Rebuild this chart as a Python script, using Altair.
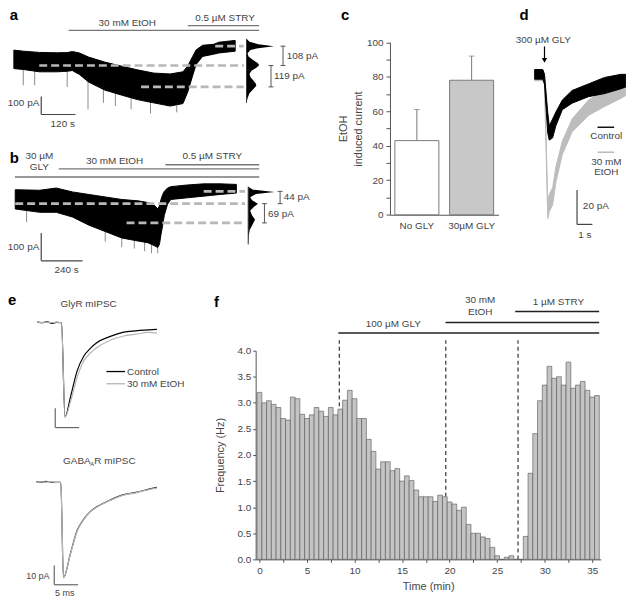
import altair as alt
import pandas as pd

FONT = "Liberation Sans"
W, H = 622, 592
OX, OY, SX, SY = 1.0, 3.0, 0.984, 0.968


def PX(x):
    return round((x - OX) * SX, 2)


def PY(y):
    return round((y - OY) * SY, 2)


# ---------------------------------------------------------------- data
# a : holding current (pA) vs time (s), envelope of the noisy trace
a_t = [0, 33, 90, 150, 187, 205, 230, 262, 319, 376, 433, 490, 548, 593, 610, 627, 639, 662, 700, 719, 776]
a_top = [-22, -28, -35, -37, -36, -30, -38, -61, -89, -111, -132, -150, -155, -143, -110, -57, -21, 5, 10, 22, 32]
a_bot = [-125, -130, -143, -143, -140, -136, -158, -200, -245, -272, -298, -316, -334, -320, -254, -164, -102, -57, -45, -38, -28]
a_spike_t = [33, 73, 187, 260, 314, 356, 411, 479, 571]
a_spike_base = [-125, -135, -140, -190, -240, -260, -290, -310, -330]
a_spike_tip = [-218, -218, -227, -352, -316, -334, -352, -375, -369]
a_levels = [0, -108, -227]
a_level_from = [706, 89, 446]
a_level_to = [806, 806, 806]
a_hist_pA = [41, 24, 11, 0, -11, -21, -39, -57, -75, -93, -105, -120, -137, -155, -173, -191, -209, -221, -239, -263, -290, -316]
a_hist_n = [0, 3, 12, 28, 12, 4, 1, 2, 6, 11, 13, 10, 5, 3, 4, 7, 9.5, 10, 7, 3, 1, 0]
a_etoh = [192, 860]
a_stry = [610, 860]
a_bar_s, a_bar_pA = 120, 100

# b
b_t = [8, 150, 246, 341, 436, 531, 627, 722, 779, 817, 836, 846, 855, 865, 874, 893, 912, 1008, 1103, 1198, 1293]
b_top = [6, 4, 12, -2, -11, -20, -29, -34, -40, -50, -63, -52, -29, -11, 0, 12, 17, 23, 27, 27, 25]
b_bot = [-63, -75, -75, -92, -121, -144, -167, -178, -184, -195, -201, -190, -155, -121, -86, -46, -29, -23, -17, -11, -6]
b_spike_t = [74, 531, 627, 700, 760, 800, 836]
b_spike_base = [-70, -140, -165, -175, -180, -190, -195]
b_spike_tip = [-110, -180, -200, -205, -215, -222, -222]
b_levels = [0, -44, -113]
b_level_from = [1103, 8, 655]
b_level_to = [1343, 1343, 1343]
b_hist_pA = [17, 6, -2, -9, -21, -32, -44, -55, -69, -86, -101, -115, -138, -161, -190]
b_hist_n = [0, 5, 27, 8, 2, 4, 10, 6, 2, 4, 7, 5, 1.5, 0.5, 0]
b_gly = [6, 1426]
b_etoh = [261, 1426]
b_stry = [881, 1426]
b_bar_s, b_bar_pA = 240, 100

# c
c_groups = ["No GLY", "30\u00b5M GLY"]
c_mean = [43, 78]
c_sem = [18, 14]

# d : current (pA) vs time (s)
d_t = [0, 0.53, 0.64, 0.85, 0.95, 1.17, 1.38, 1.8, 2.44, 3.5, 4.56, 5.62, 5.94]
d_ctrl_top = [2.8, 2.8, 0, -22, -30, -26, -22, -15, -9.4, -5.6, -1.8, 0, 0]
d_ctrl_bot = [-2.8, -2.8, -5.6, -34, -38.3, -37, -30, -20.6, -16.8, -13, -11.2, -8.4, -7.3]
d_etoh_top = [1.9, 1.9, 0, -73, -70, -66, -54, -39, -26, -15, -9.4, -5.6, -4.5]
d_etoh_bot = [-3.7, -3.7, -6, -84, -80, -76, -63, -46.7, -33.6, -24, -18.7, -14, -12.3]
d_app = 0.64
d_bar_s, d_bar_pA = 1, 20

# e : mIPSCs, current (pA) vs time (ms)
e1_t = [0, 1, 2, 3, 4, 5.06, 5.8, 6.97, 8.34, 9.69, 11.07, 12.44, 15.16, 17.89, 20.63, 23.36, 25.06]
e1_ctrl = [0.5, 0, 0.6, -0.3, 0.2, 0, -48.9, -38.4, -25, -17.5, -13.4, -10.4, -7.2, -5, -4.2, -3.7, -3.4]
e1_etoh = [0.3, 0.2, 0.4, 0, 0.3, 0, -48.9, -40.9, -28.4, -20, -15.9, -13, -9.2, -7, -5.9, -5, -5.4]
e2_t = [0, 1, 2, 3, 4, 5.12, 5.68, 7.17, 8.54, 9.9, 11.27, 12.64, 15.37, 18.1, 20.84, 23.57, 25.27]
e2_ctrl = [0.4, 0, 0.5, 0.2, 0, 0, -49.5, -36.6, -25, -19.2, -15.2, -12.7, -9.3, -6.5, -5.2, -3.5, -2.6]
e2_etoh = [0.2, 0.3, 0.1, 0.4, 0.1, 0, -49.5, -37, -25.4, -19.5, -15.4, -12.9, -9.5, -6.7, -5.4, -3.7, -2.9]
e_bar_ms, e_bar_pA = 5, 10

# f : event frequency (Hz) in 0.5-min bins
f_t = [i * 0.5 for i in range(72)]
f_freq = [3.20, 3.00, 3.04, 2.97, 2.91, 2.70, 2.67, 3.11, 3.08, 2.78,
          2.70, 2.77, 2.91, 2.84, 2.74, 2.91, 2.77, 2.88, 3.05, 3.24,
          3.08, 2.70, 2.70, 2.30, 2.07, 1.73, 1.87, 1.87, 1.70, 1.74,
          1.50, 1.60, 1.51, 1.33, 1.20, 1.20, 1.20, 1.11, 1.23, 1.20,
          1.10, 1.06, 0.94, 1.00, 0.67, 0.50, 0.50, 0.43, 0.40, 0.23,
          0.07, 0.00, 0.04, 0.07, 0.00, 0.00, 0.44, 1.65, 2.41, 3.04,
          3.34, 3.70, 3.47, 3.50, 3.34, 3.78, 3.28, 3.34, 3.41, 3.24,
          3.11, 3.14]
f_switch = [8.4, 19.6, 27.2]
f_gly = [8.3, 35.73]
f_etoh = [19.57, 35.73]
f_stry = [26.9, 35.73]

# ---------------------------------------------------------------- helpers
ONE = pd.DataFrame({"k": [0]})
layers = []


def lin(domain, p0, p1):
    return alt.Scale(domain=domain, range=[PX(p0), PX(p1)], nice=False, zero=False)


def linY(domain, p0, p1):
    return alt.Scale(domain=domain, range=[PY(p0), PY(p1)], nice=False, zero=False)


def T(x, y, s, size=10, weight="normal", align="center", baseline="middle", color="#444"):
    return alt.Chart(ONE).mark_text(text=s, font=FONT, fontSize=size, fontWeight=weight,
                                    align=align, baseline=baseline, color=color).encode(
        x=alt.value(PX(x)), y=alt.value(PY(y)))


def HR(x1, x2, y, color="#333", w=1.2):
    return alt.Chart(ONE).mark_rule(color=color, strokeWidth=w).encode(
        x=alt.value(PX(x1)), x2=alt.value(PX(x2)), y=alt.value(PY(y)))


def band(t, top, bot, xs, ys, color):
    df = pd.DataFrame({"t": t, "top": top, "bot": bot})
    return alt.Chart(df).mark_area(color=color, stroke=color, strokeWidth=1).encode(
        x=alt.X("t:Q", scale=xs, axis=None), y=alt.Y("top:Q", scale=ys, axis=None), y2="bot:Q")


def spikes(t, base, tip, xs, ys):
    df = pd.DataFrame({"t": t, "base": base, "tip": tip})
    return alt.Chart(df).mark_rule(color="#8a8a8a", strokeWidth=1).encode(
        x=alt.X("t:Q", scale=xs, axis=None), y=alt.Y("tip:Q", scale=ys, axis=None), y2="base:Q")


def levels(lev, t0, t1, xs, ys):
    df = pd.DataFrame({"lev": lev, "t0": t0, "t1": t1})
    return alt.Chart(df).mark_rule(color="#b8b8b8", strokeWidth=2.6, strokeDash=[8, 4]).encode(
        x=alt.X("t0:Q", scale=xs, axis=None), x2="t1:Q", y=alt.Y("lev:Q", scale=ys, axis=None))


def hist(pa, n, xs, ys):
    df = pd.DataFrame({"pA": pa, "n": n})
    area = alt.Chart(df).mark_area(color="black", orient="horizontal").encode(
        x=alt.X("n:Q", scale=xs, axis=None), y=alt.Y("pA:Q", scale=ys, axis=None))
    dfa = pd.DataFrame({"n": [0], "p0": [max(pa)], "p1": [min(pa)]})
    axis = alt.Chart(dfa).mark_rule(color="#333", strokeWidth=1).encode(
        x=alt.X("n:Q", scale=xs, axis=None), y=alt.Y("p0:Q", scale=ys, axis=None), y2="p1:Q")
    return [area, axis]


def bracket(xp, v0, v1, ys, cap=2.5, color="#555"):
    df = pd.DataFrame({"v0": [v0], "v1": [v1]})
    base = alt.Chart(df)
    vert = base.mark_rule(color=color).encode(
        x=alt.value(PX(xp)), y=alt.Y("v0:Q", scale=ys, axis=None), y2="v1:Q")
    c0 = base.mark_rule(color=color).encode(
        x=alt.value(PX(xp - cap)), x2=alt.value(PX(xp + cap)), y=alt.Y("v0:Q", scale=ys, axis=None))
    c1 = base.mark_rule(color=color).encode(
        x=alt.value(PX(xp - cap)), x2=alt.value(PX(xp + cap)), y=alt.Y("v1:Q", scale=ys, axis=None))
    return [vert, c0, c1]


def drug(span, yp, xs, color, w=1.4):
    df = pd.DataFrame({"t0": [span[0]], "t1": [span[1]]})
    return alt.Chart(df).mark_rule(color=color, strokeWidth=w).encode(
        x=alt.X("t0:Q", scale=xs, axis=None), x2="t1:Q", y=alt.value(PY(yp)))


def sbar(t0, dt, v0, dv, xs, ys, color="#444"):
    df = pd.DataFrame({"t0": [t0], "t1": [t0 + dt], "v0": [v0], "v1": [v0 + dv]})
    vert = alt.Chart(df).mark_rule(color=color, strokeWidth=1.2).encode(
        x=alt.X("t0:Q", scale=xs, axis=None), y=alt.Y("v0:Q", scale=ys, axis=None), y2="v1:Q")
    hor = alt.Chart(df).mark_rule(color=color, strokeWidth=1.2).encode(
        x=alt.X("t0:Q", scale=xs, axis=None), x2="t1:Q", y=alt.Y("v0:Q", scale=ys, axis=None))
    return [vert, hor]


def trace(t, v, xs, ys, color, w=1.2):
    df = pd.DataFrame({"t": t, "v": v})
    return alt.Chart(df).mark_line(color=color, strokeWidth=w, interpolate="monotone").encode(
        x=alt.X("t:Q", scale=xs, axis=None), y=alt.Y("v:Q", scale=ys, axis=None))


# ---------------------------------------------------------------- panel a
ax_a = lin([0, 880], 7, 263.7)
ay_a = linY([-420, 50], 119.03, 31.37)
layers += [spikes(a_spike_t, a_spike_base, a_spike_tip, ax_a, ay_a),
           band(a_t, a_top, a_bot, ax_a, ay_a, "black"),
           levels(a_levels, a_level_from, a_level_to, ax_a, ay_a)]
layers += hist(a_hist_pA, a_hist_n, lin([0, 30], 245, 275), ay_a)
layers += bracket(282.3, a_levels[0], a_levels[1], ay_a)
layers += bracket(270, a_levels[1], a_levels[2], ay_a)
layers += [T(286, 51, "%d pA" % (a_levels[0] - a_levels[1]), align="left"),
           T(273, 72, "%d pA" % (a_levels[1] - a_levels[2]), align="left")]
layers += sbar(96, a_bar_s, -381, a_bar_pA, ax_a, ay_a)
layers += [T(33, 100, "%d pA" % a_bar_pA, align="right"), T(57, 121.5, "%d s" % a_bar_s)]
layers += [drug(a_etoh, 24.3, ax_a, "#777"), drug(a_stry, 19.3, ax_a, "#777"),
           T(123, 16.7, "30 mM EtOH"), T(223, 11.5, "0.5 \u00b5M STRY")]

# ---------------------------------------------------------------- panel b
ax_b = lin([0, 1430], 7, 258.7)
ay_b = linY([-260, 40], 267.1, 180.1)
layers += [spikes(b_spike_t, b_spike_base, b_spike_tip, ax_b, ay_b),
           band(b_t, b_top, b_bot, ax_b, ay_b, "black"),
           levels(b_levels, b_level_from, b_level_to, ax_b, ay_b)]
layers += hist(b_hist_pA, b_hist_n, lin([0, 30], 246.7, 276.7), ay_b)
layers += bracket(279.3, b_levels[0], b_levels[1], ay_b)
layers += bracket(263.3, b_levels[1], b_levels[2], ay_b)
layers += [T(283, 197.7, "%d pA" % (b_levels[0] - b_levels[1]), align="left"),
           T(267, 215, "%d pA" % (b_levels[1] - b_levels[2]), align="left")]
layers += sbar(159, b_bar_s, -249, b_bar_pA, ax_b, ay_b)
layers += [T(33, 250, "%d pA" % b_bar_pA, align="right"), T(61, 273.5, "%d s" % b_bar_s)]
layers += [drug(b_gly, 176.7, ax_b, "#777"), drug(b_etoh, 168.3, ax_b, "#777"),
           drug(b_stry, 164, ax_b, "#777"),
           T(33, 154.5, "30 \u00b5M"), T(33, 166, "GLY"),
           T(110, 160, "30 mM EtOH"), T(210, 155, "0.5 \u00b5M STRY")]

# ---------------------------------------------------------------- panel c
cx = alt.Scale(domain=c_groups, range=[PX(391.7), PX(502.7)], paddingInner=0.196, paddingOuter=0.089)
cy = linY([0, 100], 216, 36.7)
df_c = pd.DataFrame({"g": c_groups, "m": c_mean, "s": c_sem})
c_bars = alt.Chart(df_c).mark_bar(stroke="#7a7a7a", strokeWidth=1).encode(
    x=alt.X("g:N", scale=cx, sort=c_groups,
            axis=alt.Axis(orient="bottom", offset=PY(216) - H, ticks=False, labelPadding=6,
                          labelAngle=0, title=None, labelColor="#444")),
    y=alt.Y("m:Q", scale=cy,
            axis=alt.Axis(orient="left", offset=-PX(391.7), values=list(range(0, 101, 10)),
                          labelExpr="datum.value % 20 == 0 ? datum.label : ''",
                          tickSize=4, labelPadding=3, title=["EtOH", "induced current"],
                          titleLineHeight=15, titlePadding=3)),
    fill=alt.Fill("g:N", scale=alt.Scale(domain=c_groups, range=["white", "#c8c8c8"]), legend=None))
c_err = alt.Chart(df_c).transform_calculate(hi="datum.m + datum.s").mark_rule(
    color="#7a7a7a", strokeWidth=1).encode(
    x=alt.X("g:N", scale=cx, sort=c_groups, axis=None),
    y=alt.Y("m:Q", scale=cy, axis=None), y2="hi:Q")
c_cap = alt.Chart(df_c).transform_calculate(hi="datum.m + datum.s").mark_tick(
    color="#7a7a7a", thickness=1, size=6, orient="horizontal").encode(
    x=alt.X("g:N", scale=cx, sort=c_groups, axis=None),
    y=alt.Y("hi:Q", scale=cy, axis=None))
layers += [c_err, c_cap, c_bars]

# ---------------------------------------------------------------- panel d
dx = lin([0, 6], 539.7, 633.9)
dy = linY([-100, 20], 248.5, 34.3)
layers += [band(d_t, d_etoh_top, d_etoh_bot, dx, dy, "#bdbdbd"),
           band(d_t, d_ctrl_top, d_ctrl_bot, dx, dy, "black")]
df_arrow = pd.DataFrame({"t": [d_app]})
layers += [alt.Chart(df_arrow).mark_rule(color="black", strokeWidth=1.2).encode(
               x=alt.X("t:Q", scale=dx, axis=None), y=alt.value(PY(41)), y2=alt.value(PY(55))),
           alt.Chart(df_arrow).mark_point(shape="triangle-down", filled=True, color="black",
                                          size=28, opacity=1).encode(
               x=alt.X("t:Q", scale=dx, axis=None), y=alt.value(PY(55.5))),
           T(548.5, 34, "300 \u00b5M GLY")]
layers += sbar(2.76, d_bar_s, -87.4, d_bar_pA, dx, dy)
layers += [T(589, 206.5, "%d pA" % d_bar_pA, align="left"), T(591, 237, "%d s" % d_bar_s),
           HR(604, 621, 125, "black", 1.4), T(613, 134, "Control"),
           HR(604, 621, 151, "#bdbdbd", 1.6), T(613, 161.5, "30 mM"), T(613, 172, "EtOH")]

# ---------------------------------------------------------------- panel e
e1x = lin([0, 26], 31, 157.9)
e1y = linY([-60, 5], 448.3, 318.3)
e2x = lin([0, 26], 30, 156.9)
e2y = linY([-60, 5], 614.3, 484.3)
layers += [trace(e1_t, e1_ctrl, e1x, e1y, "black"), trace(e1_t, e1_etoh, e1x, e1y, "#b5b5b5"),
           trace(e2_t, e2_ctrl, e2x, e2y, "#222"), trace(e2_t, e2_etoh, e2x, e2y, "#b5b5b5", 1.3)]
layers += sbar(3.75, e_bar_ms, -54.5, e_bar_pA, e1x, e1y, "#666")
layers += sbar(3.75, e_bar_ms, -53.2, e_bar_pA, e2x, e2y, "#666")
layers += [T(83.5, 308.5, "GlyR mIPSC"),
           T(57.3, 471.7, "GABA", align="left"), T(85.2, 475.5, "A", size=6, align="left"),
           T(89.2, 471.7, "R mIPSC", align="left"),
           HR(101.7, 120.7, 379, "black", 1.3), T(122.7, 379, "Control", align="left"),
           HR(101.7, 120.7, 391.7, "#b5b5b5", 1.3), T(122.7, 391.7, "30 mM EtOH", align="left"),
           T(43.5, 591.5, "%d pA" % e_bar_pA, size=9, align="right"),
           T(59, 609.5, "%d ms" % e_bar_ms, size=9)]

# ---------------------------------------------------------------- panel f
fx = lin([-0.4, 35.9], 254.3, 607.3)
fy = linY([0, 4], 574.3, 357.3)
df_sw = pd.DataFrame({"t": f_switch, "y0": [0] * 3, "y1": [4.2] * 3})
layers += [alt.Chart(df_sw).mark_rule(color="#333", strokeWidth=1.2, strokeDash=[4, 3]).encode(
    x=alt.X("t:Q", scale=fx, axis=None), y=alt.Y("y0:Q", scale=fy, axis=None), y2="y1:Q")]
df_f = pd.DataFrame({"t": f_t, "freq": f_freq})
f_bars = alt.Chart(df_f).transform_calculate(
    lo="datum.t - 0.25", hi="datum.t + 0.25", base="0"
).mark_bar(fill="#c4c4c4", stroke="#555", strokeWidth=0.6).encode(
    x=alt.X("lo:Q", scale=fx,
            axis=alt.Axis(orient="bottom", offset=PY(574.3) - H,
                          values=[v * 2.5 for v in range(15)],
                          labelExpr="datum.value % 5 == 0 ? datum.label : ''",
                          tickSize=3, labelPadding=3, title="Time (min)", titlePadding=5,
                          labelFlush=False, labelOverlap=False)),
    x2="hi:Q",
    y=alt.Y("freq:Q", scale=fy,
            axis=alt.Axis(orient="left", offset=-PX(254.3), values=[v * 0.5 for v in range(9)],
                          format=".1f", tickSize=3, labelPadding=2, title="Frequency (Hz)",
                          titlePadding=11, labelOverlap=False)),
    y2="base:Q")
layers += [f_bars]
layers += [drug(f_gly, 339, fx, "#222", 1.5), drug(f_etoh, 328, fx, "#222", 1.5),
           drug(f_stry, 316.7, fx, "#222", 1.5),
           T(395, 329.5, "100 \u00b5M GLY"), T(484, 305, "30 mM"), T(484, 317, "EtOH"),
           T(564, 306.7, "1 \u00b5M STRY")]

# ---------------------------------------------------------------- panel letters
for lab, x, y in [("a", 2.7, 13.3), ("b", 2.7, 161.7), ("c", 341.7, 13.3),
                  ("d", 524.3, 13.3), ("e", 1.0, 310), ("f", 211.7, 311.7)]:
    layers.append(T(x, y, lab, size=15, weight="bold", align="left", baseline="alphabetic", color="black"))

chart = alt.layer(*layers).resolve_scale(
    x="independent", y="independent", fill="independent"
).properties(
    width=W, height=H, autosize=alt.AutoSizeParams(type="none"), padding=0
).configure_view(strokeWidth=0).configure_axis(
    labelFont=FONT, titleFont=FONT, grid=False, labelColor="#444", titleColor="#444",
    domainColor="#555", tickColor="#555", labelFontSize=10, titleFontSize=11,
    titleFontWeight="normal"
)

chart.save("out.html", embed_options={"renderer": "svg", "actions": False})
